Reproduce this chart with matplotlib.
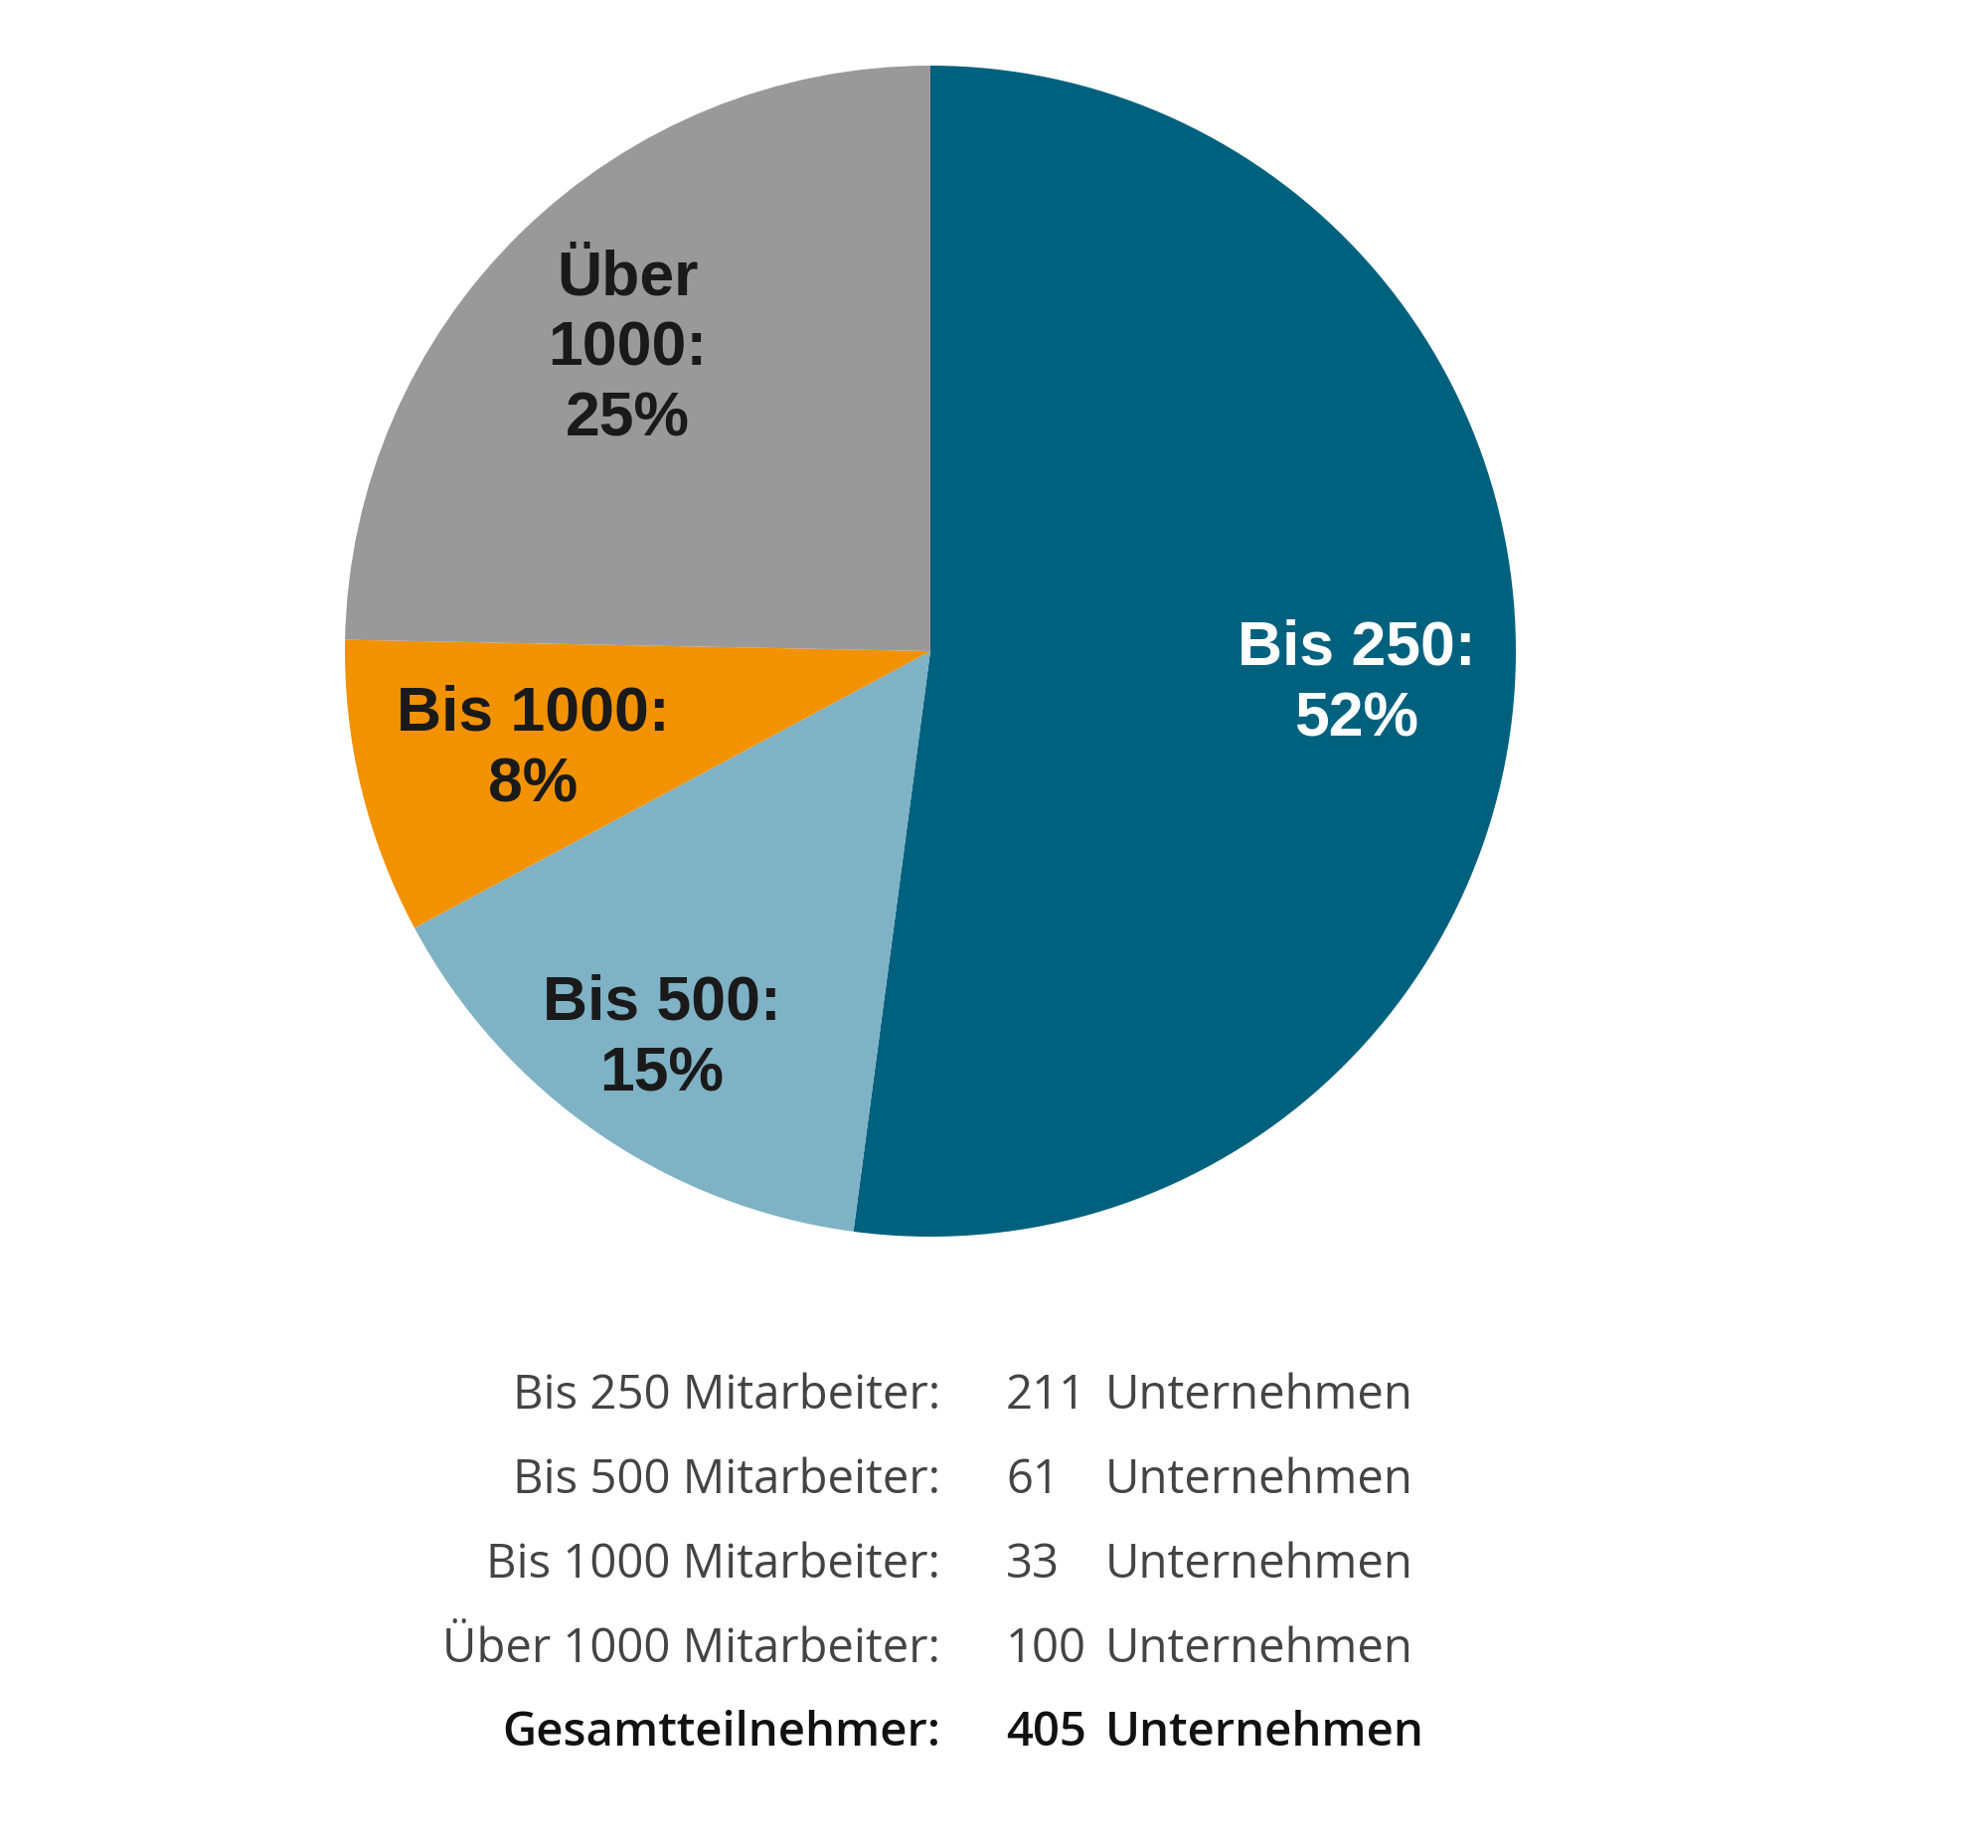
import matplotlib.pyplot as plt

# Daten
kategorien = ['Bis 250', 'Bis 500', 'Bis 1000', 'Über 1000']
unternehmen = [211, 61, 33, 100]
prozent = [52, 15, 8, 25]
farben = ['#00617f', '#7fb2c5', '#f39200', '#999999']
label_farben = ['white', '#1a1a1a', '#1a1a1a', '#1a1a1a']

tabelle_links = ['Bis 250 Mitarbeiter:', 'Bis 500 Mitarbeiter:', 'Bis 1000 Mitarbeiter:',
                 'Über 1000 Mitarbeiter:', 'Gesamtteilnehmer:']
tabelle_zahlen = [str(u) for u in unternehmen] + [str(sum(unternehmen))]

W, H = 2000, 1859
fig = plt.figure(figsize=(W / 100, H / 100), dpi=100)
ax = fig.add_axes([0, 0, 1, 1])

# Kreis in Pixelkoordinaten (y nach oben)
cx, cy, r = 936, H - 655, 589
ax.pie(unternehmen, colors=farben, startangle=90, counterclock=False,
       center=(cx, cy), radius=r, frame=True,
       wedgeprops=dict(linewidth=0))

# Beschriftungen im Kreis
label_pos = [(1365, 688), (666, 1045), (536, 754), (631, 351)]
label_text = ['Bis 250:\n52%', 'Bis 500:\n15%', 'Bis 1000:\n8%', 'Über\n1000:\n25%']
for (x, y), t, c in zip(label_pos, label_text, label_farben):
    ax.text(x, H - y, t, ha='center', va='center', color=c, fontsize=45,
            fontweight='bold', family='Liberation Sans', linespacing=1.27)

# Tabelle unten
zeilen_y = [1404, 1489, 1574, 1659, 1744]
for i, (links, zahl, y) in enumerate(zip(tabelle_links, tabelle_zahlen, zeilen_y)):
    fett = i == len(zeilen_y) - 1
    farbe = '#111111' if fett else '#444444'
    gewicht = 'semibold' if fett else 'normal'
    kw = dict(va='center', fontsize=34, family='Open Sans', color=farbe, fontweight=gewicht)
    ax.text(946, H - y, links, ha='right', **kw)
    ax.text(1012, H - y, zahl, ha='left', **kw)
    ax.text(1112, H - y, 'Unternehmen', ha='left', **kw)

ax.set_xlim(0, W)
ax.set_ylim(0, H)
ax.set_aspect('equal')
ax.axis('off')

fig.savefig('out.png', dpi=100, facecolor='white')
